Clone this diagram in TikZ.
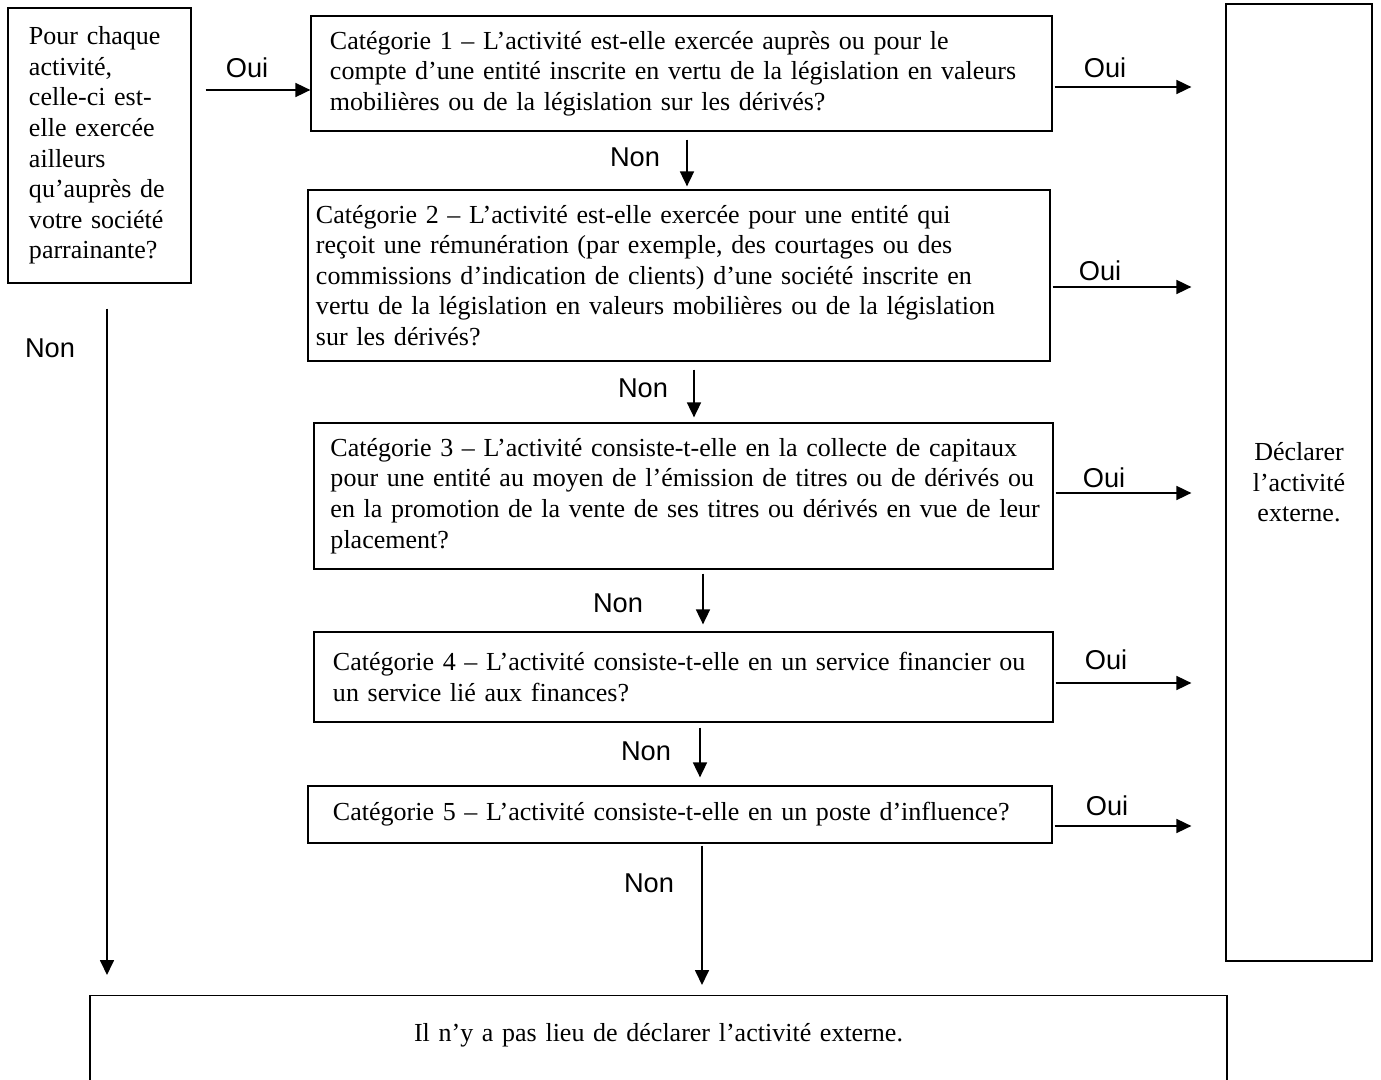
\documentclass[tikz,border=0pt]{standalone}
\usepackage{fontspec}
\setmainfont{Liberation Serif}
\newfontfamily\etiqfont{Liberation Sans}
\usetikzlibrary{positioning,arrows.meta}
\tikzstyle{fleche} = [line width=1pt,-{Triangle[length=0.3cm,width=0.28cm]}]
\tikzstyle{etiq}   = [font=\etiqfont\fontsize{15.5}{18}\selectfont, inner sep=0pt]

\begin{document}
\begin{tikzpicture}[x=0.2mm,y=-0.2mm,
			boite/.style={draw, line width=0.7pt, rectangle, align=left, inner ysep=2pt,
					font=\fontsize{14.8}{17.4}\selectfont},
		]
		\useasboundingbox (0,0) rectangle (1381,1080);

		\node[boite, inner xsep=0.42cm, text width=2.82cm, minimum height=5.5cm] (depart) at (99.5,145.5)
		{Pour chaque\\activité,\\celle-ci est-\\elle exercée\\ailleurs\\qu’auprès de\\votre société\\parrainante?};

		\node[boite, inner xsep=0.38cm, text width=14.06cm, minimum height=2.3cm] (b1) at (681.5,73.5)
		{Catégorie 1 – L’activité est-elle exercée auprès ou pour le\\compte d’une entité inscrite en vertu de la législation en valeurs\\mobilières ou de la législation sur les dérivés?};
		\node[boite, inner xsep=0.16cm, text width=14.52cm, minimum height=3.42cm] (b2) at (679,275.5)
		{Catégorie 2 – L’activité est-elle exercée pour une entité qui\\reçoit une rémunération (par exemple, des courtages ou des\\commissions d’indication de clients) d’une société inscrite en\\vertu de la législation en valeurs mobilières ou de la législation\\sur les dérivés?};
		\node[boite, inner xsep=0.33cm, text width=14.12cm, minimum height=2.92cm] (b3) at (683.5,496)
		{Catégorie 3 – L’activité consiste-t-elle en la collecte de capitaux\\\mbox{pour une entité au moyen de l’émission de titres ou de dérivés ou}\\\mbox{en la promotion de la vente de ses titres ou dérivés en vue de leur}\\placement?};
		\node[boite, inner xsep=0.38cm, text width=14.02cm, minimum height=1.8cm] (b4) at (683.5,677)
		{Catégorie 4 – L’activité consiste-t-elle en un service financier ou\\un service lié aux finances?};
		\node[boite, inner xsep=0.50cm, text width=13.88cm, minimum height=1.14cm] (b5) at (680,814.5)
		{Catégorie 5 – L’activité consiste-t-elle en un poste d’influence?};

		\node[boite, align=center, inner xsep=0.1cm, text width=2.72cm, minimum height=19.14cm] (decl) at (1299,482.5)
		{Déclarer\\l’activité\\externe.};

		\node[boite, anchor=north, align=center, inner xsep=0.12cm, text width=22.5cm,
			text height=0.5cm, text depth=0.87cm, inner ysep=0.42cm] (fin) at (658.5,995)
		{Il n’y a pas lieu de déclarer l’activité externe.};

		% Oui
		\path (b1.west) ++(0,16.5) coordinate (o0);
		\draw[fleche, shorten <=14*0.2mm] (depart.east |- o0) -- (o0);
		\node[etiq] (oui0) at (247,68) {Oui};

		\foreach \b/\dy in {b1/13.5, b2/11.5, b3/-3, b4/6, b5/11.5}
		\draw[fleche, shorten >=0.68cm] (\b.east) ++(2,\dy) coordinate (o) -- (o -| decl.west);

		\node[etiq] (oui1) at (1105,68) {Oui};
		\node[etiq] (oui2) at (1100,271) {Oui};
		\node[etiq] (oui3) at (1104,478) {Oui};
		\node[etiq] (oui4) at (1106,660) {Oui};
		\node[etiq] (oui5) at (1107,806) {Oui};

		% Non
		\foreach \a/\b/\dx/\s/\t in {b1/b2/5.5/8/3, b2/b3/15/8/5, b3/b4/19.5/4/7, b4/b5/16.5/5/8, b5/fin/22/2/10, depart/fin/7.5/25/20}
		\draw[fleche, shorten >=\t*0.2mm] (\a.south) ++(\dx,\s) coordinate (n) -- (n |- \b.north);

		\node[etiq] (non1) at (635,157) {Non};
		\node[etiq] (non2) at (643,388) {Non};
		\node[etiq] (non3) at (618,603) {Non};
		\node[etiq] (non4) at (646,751) {Non};
		\node[etiq] (non5) at (649,883) {Non};
		\node[etiq] (non0) at (50,348) {Non};
	\end{tikzpicture}
\end{document}
